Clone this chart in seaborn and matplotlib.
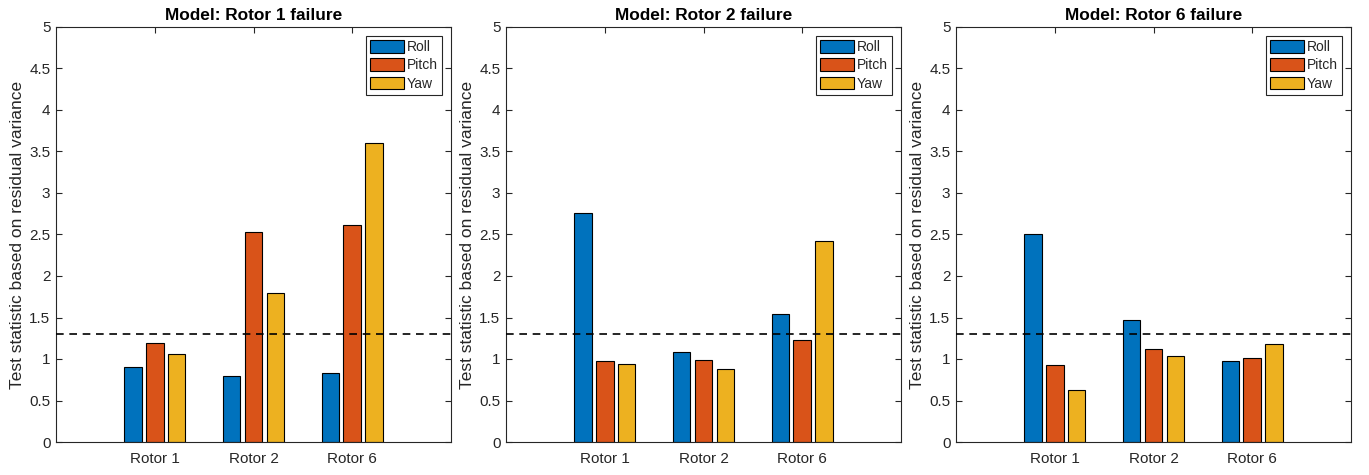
import matplotlib
matplotlib.use("Agg")
import matplotlib.pyplot as plt
import seaborn as sns
import pandas as pd
from matplotlib.ticker import MultipleLocator, FormatStrFormatter

# ---------------- data ----------------
rotors = ["Rotor 1", "Rotor 2", "Rotor 6"]
series_names = ["Roll", "Pitch", "Yaw"]
titles = ["Model: Rotor 1 failure", "Model: Rotor 2 failure", "Model: Rotor 6 failure"]

roll_m1 = [0.90, 0.80, 0.835]
pitch_m1 = [1.19, 2.53, 2.61]
yaw_m1 = [1.06, 1.80, 3.60]

roll_m2 = [2.76, 1.09, 1.54]
pitch_m2 = [0.98, 0.99, 1.23]
yaw_m2 = [0.935, 0.88, 2.42]

roll_m6 = [2.51, 1.47, 0.98]
pitch_m6 = [0.93, 1.12, 1.01]
yaw_m6 = [0.63, 1.04, 1.18]

threshold = 1.30
ylabel = "Test statistic based on residual variance"

colors = ["#0072BD", "#D95319", "#EDB120"]

# ---------------- style ----------------
sns.set_style("ticks")
plt.rcParams["font.family"] = ["Liberation Sans", "DejaVu Sans"]
plt.rcParams["axes.edgecolor"] = "#262626"
plt.rcParams["xtick.color"] = "#262626"
plt.rcParams["ytick.color"] = "#262626"
plt.rcParams["axes.linewidth"] = 0.8

fig = plt.figure(figsize=(13.69, 4.75), dpi=100)
lefts = [56, 506, 956]
W, H = 1369, 475
ax_w, ax_top, ax_bot = 395, 27, 442

panels = [
    (roll_m1, pitch_m1, yaw_m1),
    (roll_m2, pitch_m2, yaw_m2),
    (roll_m6, pitch_m6, yaw_m6),
]

for i, (roll, pitch, yaw) in enumerate(panels):
    ax = fig.add_axes([lefts[i] / W, 1 - ax_bot / H, ax_w / W, (ax_bot - ax_top) / H])
    df = pd.DataFrame({
        "rotor": rotors * 3,
        "axis": [s for s in series_names for _ in rotors],
        "value": list(roll) + list(pitch) + list(yaw),
    })
    sns.barplot(data=df, x="rotor", y="value", hue="axis", hue_order=series_names,
                order=rotors, palette=colors, width=0.667, gap=0.2,
                edgecolor="black", linewidth=0.8, saturation=1, ax=ax, errorbar=None)
    ax.axhline(threshold, color="black", linestyle=(0, (4.6, 3.4)), linewidth=1.2, zorder=3)
    ax.set_xlim(-1, 3)
    ax.set_ylim(0, 5)
    ax.yaxis.set_major_locator(MultipleLocator(0.5))
    ax.yaxis.set_major_formatter(FormatStrFormatter("%g"))
    ax.tick_params(axis="both", direction="in", top=True, right=True, length=4,
                   width=0.8, labelsize=11, pad=4)
    ax.tick_params(axis="x", pad=7.5)
    ax.set_xlabel("")
    ax.set_ylabel(ylabel, fontsize=12.5, color="#262626", labelpad=3)
    ax.set_title(titles[i], fontsize=12.4, fontweight="bold", color="black", pad=5)
    for sp in ax.spines.values():
        sp.set_visible(True)
        sp.set_color("#262626")
    sns.move_legend(ax, "upper right", title=None, fontsize=10, frameon=True,
                    fancybox=False, edgecolor="#262626", framealpha=1,
                    handlelength=2.45, handleheight=1.0, handletextpad=0.2,
                    labelspacing=0.3, borderpad=0.3, borderaxespad=0.65)
    leg = ax.get_legend()
    leg.get_frame().set_linewidth(0.8)
    for h in leg.legend_handles:
        h.set_edgecolor("black")
        h.set_linewidth(0.8)

fig.savefig("out.png", dpi=100)
